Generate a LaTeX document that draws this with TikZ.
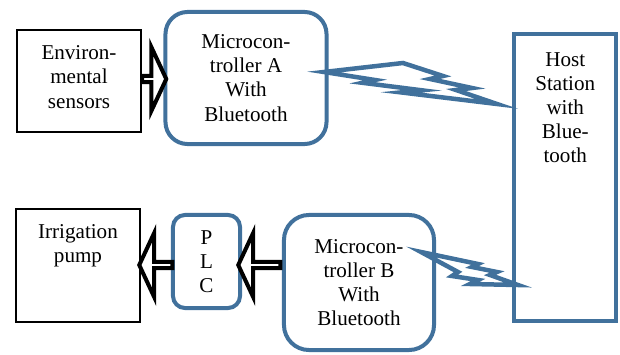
\documentclass[tikz,border=0pt]{standalone}
\usepackage{fontspec}
\setmainfont{LiberationSerif}[Extension=.ttf, UprightFont=*-Regular]
\usetikzlibrary{shapes,arrows,positioning}

\definecolor{linkblue}{RGB}{65,113,156}

\begin{document}
\begin{tikzpicture}[
    x=0.025cm, y=-0.025cm,
    font=\fontsize{15}{17.2}\selectfont,
    device/.style={draw, line width=0.9pt, align=center, inner sep=0pt},
    unit/.style={draw=linkblue, line width=2.85pt, align=center, inner sep=0pt},
    txt/.style={align=center, inner sep=0pt},
    blockarrow/.style={single arrow, draw, line width=2.85pt, fill=white, inner sep=0pt, minimum width=1.6cm, single arrow head extend=0.45cm, single arrow tip angle=130},
    bolt/.style={draw=linkblue, line width=3.2pt}
]
\useasboundingbox (0,0) rectangle (620,355);

% Sensors and microcontroller A
\node[device, minimum width=3.1cm, minimum height=2.55cm] (sensors) at (79,81) {};
\node[txt] (sensorstext) at (79,77) {Environ-\\mental\\sensors};
\node[unit, rounded corners=0.55cm, minimum width=4.025cm, minimum height=3.3cm] (mcA) at (246,78) {Microcon-\\troller A\\With\\Bluetooth};

% Host station, text kept at the top
\node[unit, minimum width=2.54cm, minimum height=7.175cm] (host) at (565.25,177.5) {};
\node[txt, below=0.5cm of host.north] (hosttext) {Host\\Station\\with\\Blue-\\tooth};

% Pump, PLC and microcontroller B
\node[device, minimum width=3.1cm, minimum height=2.825cm] (pump) at (78,265.5) {};
\node[txt, below=0.4cm of pump.north] (pumptext) {Irrigation\\pump};
\node[unit, rounded corners=0.3cm, minimum width=1.675cm, minimum height=2.325cm] (plc) at (206.5,261.5) {P\\L\\C};
\node[unit, rounded corners=0.625cm, minimum width=3.75cm, minimum height=3.375cm] (mcB) at (359,282.5) {Microcon-\\troller B\\With\\Bluetooth};

% Block arrows
\node[blockarrow, minimum height=0.6cm] (toA) at (153.5,79) {};
\node[blockarrow, shape border rotate=180, minimum height=0.825cm] (toPump) at (156.5,265) {};
\node[blockarrow, shape border rotate=180, minimum height=1.05cm] (toPLC) at (260,265) {};

% Bluetooth links
\draw[bolt] (324,72) -- (403,63) -- (443,76) -- (430,79) -- (472,88) -- (456,90)
    -- (497,104) -- (401,92.4) -- (421.8,90.3) -- (362.5,82.8) -- (375,80) -- cycle;
\draw[bolt] (421,252) -- (478,264) -- (472,267) -- (497,272) -- (490,275) -- (518,285)
    -- (470,284) -- (478,280) -- (452,276) -- (458,272) -- cycle;

\end{tikzpicture}
\end{document}
